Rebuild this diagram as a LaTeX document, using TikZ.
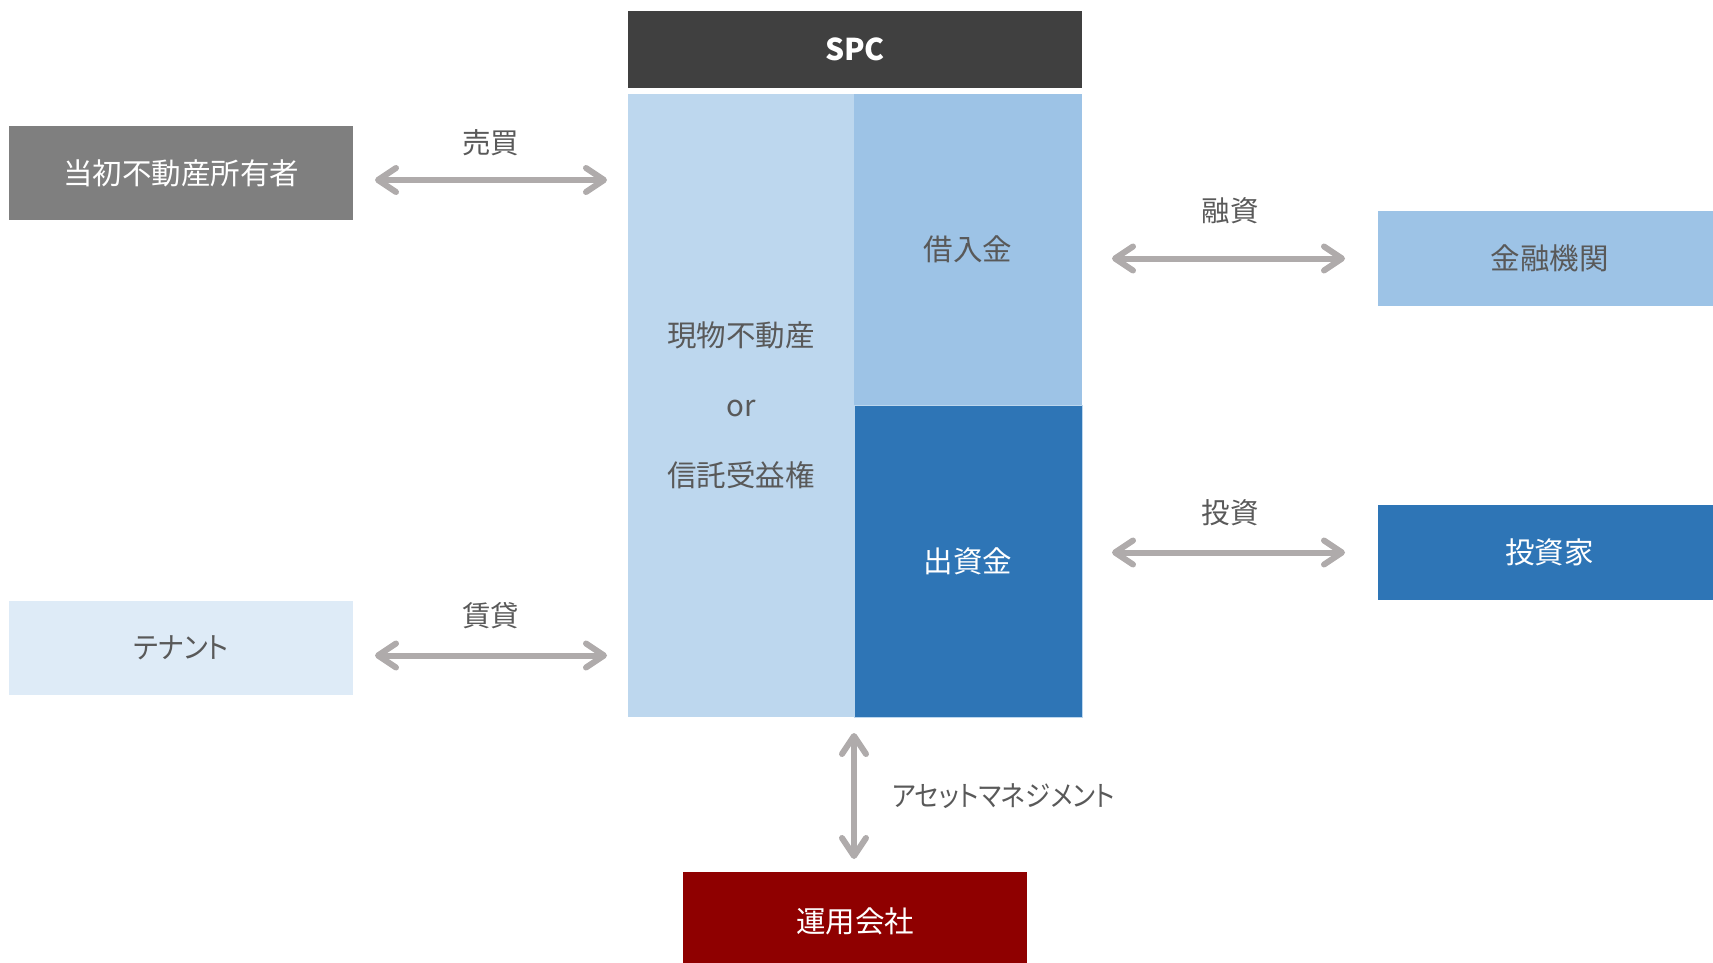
\documentclass[tikz,border=0pt]{standalone}
\usepackage{fontspec}
\setmainfont[RawFeature=+palt]{Noto Sans CJK JP}
\usetikzlibrary{arrows.meta}
\definecolor{spcc}{HTML}{404040}
\definecolor{lbA}{HTML}{BDD7EE}
\definecolor{lbB}{HTML}{9DC3E6}
\definecolor{dbl}{HTML}{2E75B6}
\definecolor{grc}{HTML}{7F7F7F}
\definecolor{lbC}{HTML}{DEEBF7}
\definecolor{redc}{HTML}{8F0000}
\definecolor{arrc}{HTML}{AFABAB}
\definecolor{txtc}{HTML}{595959}
\begin{document}
\begin{tikzpicture}[x=1pt,y=-1pt,
  blk/.style n args={2}{rectangle, inner sep=0pt, outer sep=0pt,
     minimum width=#1pt, minimum height=#2pt,
     font=\fontsize{29.5}{35}\selectfont},
  lbl/.style={font=\fontsize{28.5}{34}\selectfont, text=txtc, inner sep=0pt},
  dblarr/.style={draw=arrc, line width=6pt,
     {Straight Barb[length=18pt,width=24pt,round]}-{Straight Barb[length=18pt,width=24pt,round]}}]
\useasboundingbox (0,0) rectangle (1713,962);
% SPC
\node[blk={454}{77}, fill=spcc, text=white, font=\fontsize{30}{36}\selectfont\bfseries] (spc) at (855,49.5) {\raisebox{-2pt}{SPC}};
\node[blk={226}{623}, fill=lbA, text=txtc, align=center, font=\fontsize{29.5}{70}\selectfont] (prop) at (741,405.5) {現物不動産\\or\\信託受益権};
\node[blk={228}{311}, fill=lbB, text=txtc] (loan) at (968,249.5) {借入金};
\node[blk={228}{312}, fill=dbl, text=white, draw=lbA, line width=1pt] (eq) at (968,561) {出資金};
% side boxes
\node[blk={344}{94}, fill=grc, text=white] (owner) at (181,173) {当初不動産所有者};
\node[blk={344}{94}, fill=lbC, text=txtc] (tenant) at (181,648) {\scalebox{0.92}[1]{テナント}};
\node[blk={343}{95}, fill=lbB, text=txtc] (bank) at (1549.5,258.5) {金融機関};
\node[blk={343}{95}, fill=dbl, text=white] (inv) at (1549.5,552.5) {投資家};
\node[blk={344}{98}, fill=redc, text=white] (am) at (855,921) {運用会社};
% arrows
\coordinate (o1) at ([yshift=-7pt]owner.east);
\draw[dblarr, shorten <=22pt, shorten >=21pt] (o1) -- (o1 -| prop.west)
  node[lbl, midway, yshift=37pt] (l1) {売買};
\coordinate (t1) at ([yshift=-7.5pt]tenant.east);
\draw[dblarr, shorten <=22pt, shorten >=21pt] (t1) -- (t1 -| prop.west)
  node[lbl, midway, yshift=40pt] (l2) {賃貸};
\coordinate (b1) at (bank.west);
\draw[dblarr, shorten <=30pt, shorten >=33pt] (b1 -| loan.east) -- (b1)
  node[lbl, midway, yshift=48pt] (l3) {融資};
\coordinate (i1) at (inv.west);
\draw[dblarr, shorten <=30pt, shorten >=33pt] (i1 -| eq.east) -- (i1)
  node[lbl, midway, yshift=40pt] (l4) {投資};
\draw[dblarr, shorten <=16pt, shorten >=13pt] (eq.south west) -- (eq.south west |- am.north)
  node[lbl, midway, anchor=west, xshift=35pt, yshift=-2pt] (l5) {\scalebox{0.89}[1]{アセットマネジメント}};
\end{tikzpicture}
\end{document}
